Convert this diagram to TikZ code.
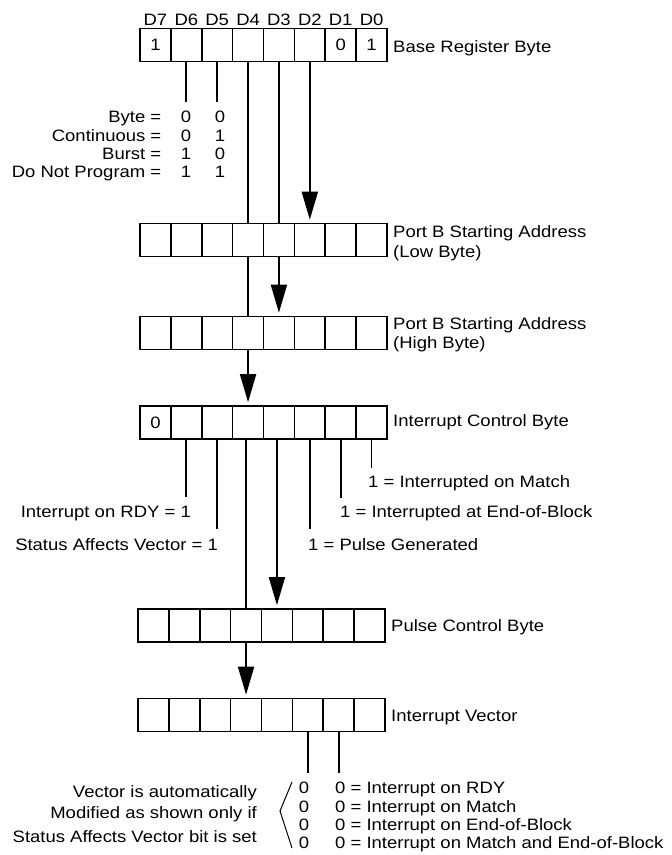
\documentclass[tikz,border=0pt]{standalone}
\usepackage{fontspec}
\setmainfont{Liberation Sans}[FakeStretch=1.12]
\usetikzlibrary{arrows.meta,calc}
\newcommand\txtf{\fontsize{16.5}{18.3}\selectfont}
\begin{document}
\begin{tikzpicture}[x=1pt,y=-1pt,
  cell/.style={draw, line width=1.6pt, minimum width=30.875pt, minimum height=33pt, inner sep=0pt, font=\txtf},
  lbl/.style={inner sep=0pt, font=\txtf},
  conn/.style={line width=1.8pt},
  arr/.style={conn, -{Triangle[length=28pt,width=16pt]}, shorten >=3pt}]
\path[use as bounding box] (0,0) rectangle (672,855);

% registers
\foreach \b/\t [count=\k from 0] in {7/1,6/{},5/{},4/{},3/{},2/{},1/0,0/1}
  \node[cell] (base-\b) at ({140+(\k+0.5)*30.875},45) {\t};
\foreach \b [count=\k from 0] in {7,...,0}
  \node[cell] (low-\b) at ({140+(\k+0.5)*30.875},240) {};
\foreach \b [count=\k from 0] in {7,...,0}
  \node[cell] (high-\b) at ({140+(\k+0.5)*30.875},333) {};
\foreach \b/\t [count=\k from 0] in {7/0,6/{},5/{},4/{},3/{},2/{},1/{},0/{}}
  \node[cell] (icb-\b) at ({140+(\k+0.5)*30.875},422.5) {\t};
\foreach \b [count=\k from 0] in {7,...,0}
  \node[cell] (pulse-\b) at ({138+(\k+0.5)*30.875},625.5) {};
\foreach \b [count=\k from 0] in {7,...,0}
  \node[cell] (iv-\b) at ({138+(\k+0.5)*30.875},715) {};

% header
\foreach \b [count=\k from 0] in {7,...,0}
  \node[lbl, anchor=base] (hd\b) at ({140+(\k+0.5)*30.875},25) {D\b};

% register labels
\node[lbl, anchor=base west] (lbase) at (393,52) {Base Register Byte};
\node[lbl, anchor=base west] (llow1) at (393,237) {Port B Starting Address};
\node[lbl, anchor=base west] (llow2) at (393,257) {(Low Byte)};
\node[lbl, anchor=base west] (lhigh1) at (393,329) {Port B Starting Address};
\node[lbl, anchor=base west] (lhigh2) at (393,348) {(High Byte)};
\node[lbl, anchor=base west] (licb) at (393,426) {Interrupt Control Byte};
\node[lbl, anchor=base west] (lpulse) at (391,631) {Pulse Control Byte};
\node[lbl, anchor=base west] (liv) at (391,721) {Interrupt Vector};

% mode table
\foreach \nm/\a/\c/\yy [count=\r] in {Byte/0/0/122, Continuous/0/1/141, Burst/1/0/159, Do Not Program/1/1/177} {
  \node[lbl, anchor=base east] (tn\r) at (161.5,\yy) {\nm\ =};
  \node[lbl, anchor=base] (ta\r) at (186,\yy) {\a};
  \node[lbl, anchor=base] (tc\r) at (220,\yy) {\c};
}

% base register connectors
\coordinate (e6) at (base-6.south |- 0,102);
\coordinate (e5) at (base-5.south |- 0,102);
\draw[conn] (base-6.south) -- (e6);
\draw[conn] (base-5.south) -- (e5);
\draw[conn] (base-4.south) -- (low-4.north);
\draw[conn] (low-4.south) -- (high-4.north);
\draw[arr]  (high-4.south) -- (icb-4.north);
\draw[conn] (base-3.south) -- (low-3.north);
\draw[arr]  (low-3.south) -- (high-3.north);
\draw[arr]  (base-2.south) -- (low-2.north);

% interrupt control byte connectors
\coordinate (i6) at (icb-6.south |- 0,497);
\coordinate (i5) at (icb-5.south |- 0,529);
\coordinate (i2) at (icb-2.south |- 0,529);
\coordinate (i1) at (icb-1.south |- 0,498);
\coordinate (i0) at (icb-0.south |- 0,468);
\draw[conn] (icb-6.south) -- (i6);
\draw[conn] (icb-5.south) -- (i5);
\draw[conn] (icb-2.south) -- (i2);
\draw[conn] (icb-1.south) -- (i1);
\draw[conn] (icb-0.south) -- (i0);
\draw[conn] (icb-4.south -| pulse-4.north) -- (pulse-4.north);
\draw[arr]  (icb-3.south -| pulse-3.north) -- (pulse-3.north);
\draw[arr]  (pulse-4.south) -- (iv-4.north);

\node[lbl, anchor=base west] (lm) at (368,487) {1 = Interrupted on Match};
\node[lbl, anchor=base west] (le) at (340,517) {1 = Interrupted at End-of-Block};
\node[lbl, anchor=base west] (lp) at (308,550) {1 = Pulse Generated};
\node[lbl, anchor=base east] (lr) at (191,517) {Interrupt on RDY = 1};
\node[lbl, anchor=base east] (ls) at (218,550) {Status Affects Vector = 1};

% interrupt vector connectors
\coordinate (v2) at (iv-2.south |- 0,773);
\coordinate (v1) at (iv-1.south |- 0,773);
\draw[conn] (iv-2.south) -- (v2);
\draw[conn] (iv-1.south) -- (v1);

% bottom notes
\node[lbl, anchor=base east] (n1) at (257,797) {Vector is automatically};
\node[lbl, anchor=base east] (n2) at (257,818) {Modified as shown only if};
\node[lbl, anchor=base east] (n3) at (257,842) {Status Affects Vector bit is set};
\draw[line width=1pt] (292,782) -- (280,811) -- (292,848);
\foreach \tx/\yy [count=\r] in {Interrupt on RDY/793, Interrupt on Match/812, Interrupt on End-of-Block/830, Interrupt on Match and End-of-Block/848} {
  \node[lbl, anchor=base] (z\r) at (304,\yy) {0};
  \node[lbl, anchor=base west] (w\r) at (335,\yy) {0 = \tx};
}
\end{tikzpicture}
\end{document}
